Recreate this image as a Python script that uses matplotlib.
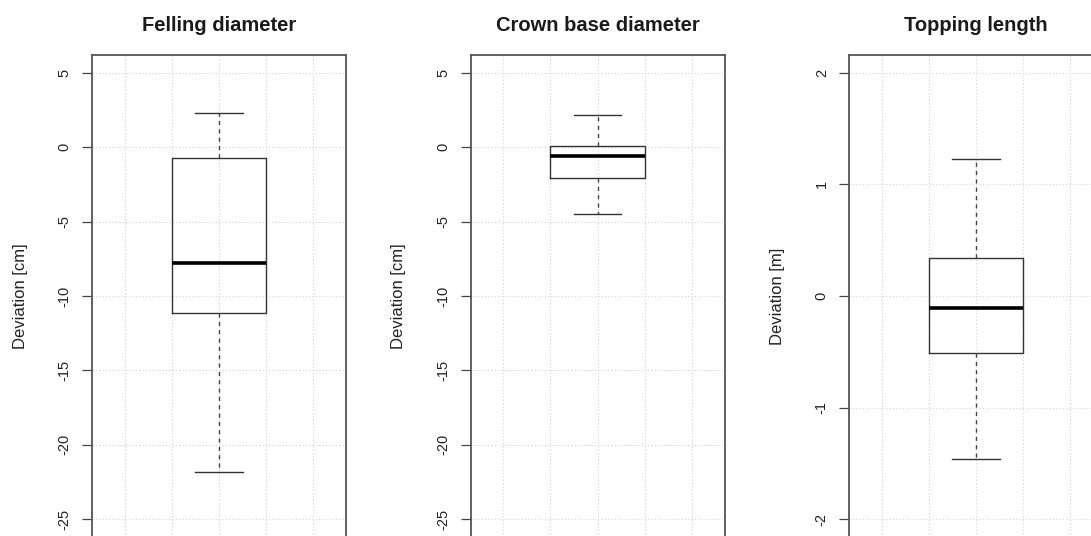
import numpy as np
import matplotlib
matplotlib.use("Agg")
import matplotlib.pyplot as plt

plt.rcParams['font.family'] = ['Liberation Sans', 'DejaVu Sans']

# box statistics
titles = ["Felling diameter", "Crown base diameter", "Topping length"]
ylabels = ["Deviation [cm]", "Deviation [cm]", "Deviation [m]"]
whisker_low = [-21.8, -4.5, -1.46]
q1 = [-11.15, -2.1, -0.51]
medians = [-7.8, -0.6, -0.11]
q3 = [-0.75, 0.05, 0.34]
whisker_high = [2.3, 2.2, 1.23]
yticks = [[5, 0, -5, -10, -15, -20, -25],
          [5, 0, -5, -10, -15, -20, -25],
          [2, 1, 0, -1, -2]]
ylims = [(-25, 5), (-25, 5), (-2, 2)]

W, H = 1091, 536
fig = plt.figure(figsize=(W / 100, H / 100), dpi=100)

lefts = [92, 470.5, 849]
ax_w = 254
ax_top, ax_bot = 55, 537

for i in range(3):
    ax = fig.add_axes([lefts[i] / W, (H - ax_bot) / H, ax_w / W, (ax_bot - ax_top) / H])

    # R style 4% expansion of the range
    lo, hi = ylims[i]
    pad = (hi - lo) * 0.04
    ax.set_ylim(lo - pad, hi + pad)
    ax.set_xlim(0.46, 1.54)

    # grid like R grid()
    for gx in [0.6, 0.8, 1.0, 1.2, 1.4]:
        ax.axvline(gx, color='#d4d4d4', lw=0.8, ls=(0, (1, 2)), zorder=0)
    for gy in yticks[i]:
        ax.axhline(gy, color='#d4d4d4', lw=0.8, ls=(0, (1, 2)), zorder=0)

    stats = [{'med': medians[i], 'q1': q1[i], 'q3': q3[i],
              'whislo': whisker_low[i], 'whishi': whisker_high[i], 'fliers': []}]
    ax.bxp(stats, positions=[1], widths=0.4, showfliers=False,
           boxprops=dict(color='#333333', lw=1.0),
           medianprops=dict(color='black', lw=2.6, solid_capstyle='butt'),
           whiskerprops=dict(color='#444444', lw=1.0, ls=(0, (3, 3))),
           capprops=dict(color='#333333', lw=1.0), capwidths=0.2)

    ax.set_xlim(0.46, 1.54)
    ax.set_xticks([])
    ax.set_yticks(yticks[i])
    ax.set_yticklabels([str(t) for t in yticks[i]], rotation=90, va='center', fontsize=10.5)
    ax.tick_params(axis='y', length=7.5, width=0.9, color='#444444', pad=7, labelcolor='#222222')

    for s in ax.spines.values():
        s.set_color('#555555')
        s.set_linewidth(1.3)

    ax.set_title(titles[i], fontsize=14.5, fontweight='bold', pad=17, color='#1a1a1a')
    ax.set_ylabel(ylabels[i], fontsize=12, color='#222222')
    ax.yaxis.set_label_coords(-0.252, 0.5)

fig.savefig("out.png", dpi=100)
